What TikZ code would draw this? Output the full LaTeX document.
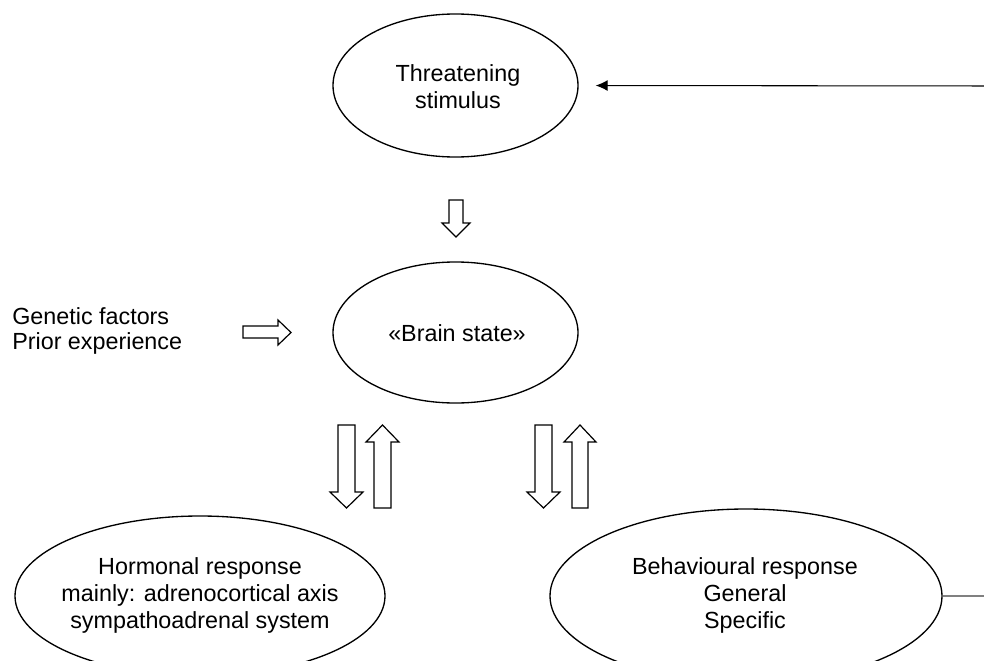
\documentclass[tikz,border=0pt]{standalone}
\usepackage{fontspec}
\setmainfont{Liberation Sans}
\usetikzlibrary{shapes.geometric,arrows.meta}
\begin{document}
\begin{tikzpicture}[x=0.75pt,y=-0.75pt,
  oval/.style={draw, ellipse, line width=1pt, inner sep=0pt},
  lbl/.style={align=center, inner sep=0pt, font=\fontsize{17.5}{20.25}\selectfont},
  blk/.style={draw, line width=0.9pt, fill=white, line join=miter},
  link/.style={line width=0.8pt}]
\useasboundingbox (0,0) rectangle (984,660);
\clip (0,0) rectangle (984,660);
% ellipses
\node[oval, minimum width=183.75pt, minimum height=107.25pt] (thr) at (455.5,85.5) {};
\node[oval, minimum width=183.75pt, minimum height=105.75pt] (brn) at (455.5,332.5) {};
\node[oval, minimum width=277.5pt, minimum height=120pt] (hor) at (200,596) {};
\node[oval, minimum width=294pt, minimum height=130.5pt] (beh) at (746,596) {};
% texts
\node[lbl] (thrt) at (458,86.5) {Threatening\\stimulus};
\node[lbl] (brnt) at (457,333) {«Brain state»};
\node[lbl] (hort) at (200,595) {Hormonal response\\mainly: adrenocortical axis\\sympathoadrenal system};
\node[lbl] (beht) at (745,595) {Behavioural response\\General\\Specific};
\node[lbl, align=left, anchor=west, font=\fontsize{17.5}{18.75}\selectfont] (gen) at (12,330.5) {Genetic factors\\Prior experience};
% feedback connector
\coordinate (cR) at (1000,86);
\draw[link, gray] (beh.east) -- (beh.east -| cR);
\draw[link, -{Latex[length=9pt, width=8.25pt]}, shorten >=12.75pt] (cR) -- (thr.east);
% block arrows
\draw[blk] (449,200) -- (463,200) -- (463,223) -- (470,223) -- (456,237) -- (442,223) -- (449,223) -- cycle;
\draw[blk] (243,326) -- (278,326) -- (278,320) -- (291,332.5) -- (278,345) -- (278,338) -- (243,338) -- cycle;
\draw[blk] (338,425) -- (355,425) -- (355,492) -- (363,492) -- (346.5,508) -- (330,492) -- (338,492) -- cycle;
\draw[blk] (374,508) -- (391,508) -- (391,442) -- (399,442) -- (382.5,425) -- (366,442) -- (374,442) -- cycle;
\draw[blk] (535,425) -- (552,425) -- (552,492) -- (560,492) -- (543.5,508) -- (527,492) -- (535,492) -- cycle;
\draw[blk] (572,508) -- (588,508) -- (588,442) -- (596,442) -- (580,425) -- (564,442) -- (572,442) -- cycle;
\end{tikzpicture}
\end{document}
